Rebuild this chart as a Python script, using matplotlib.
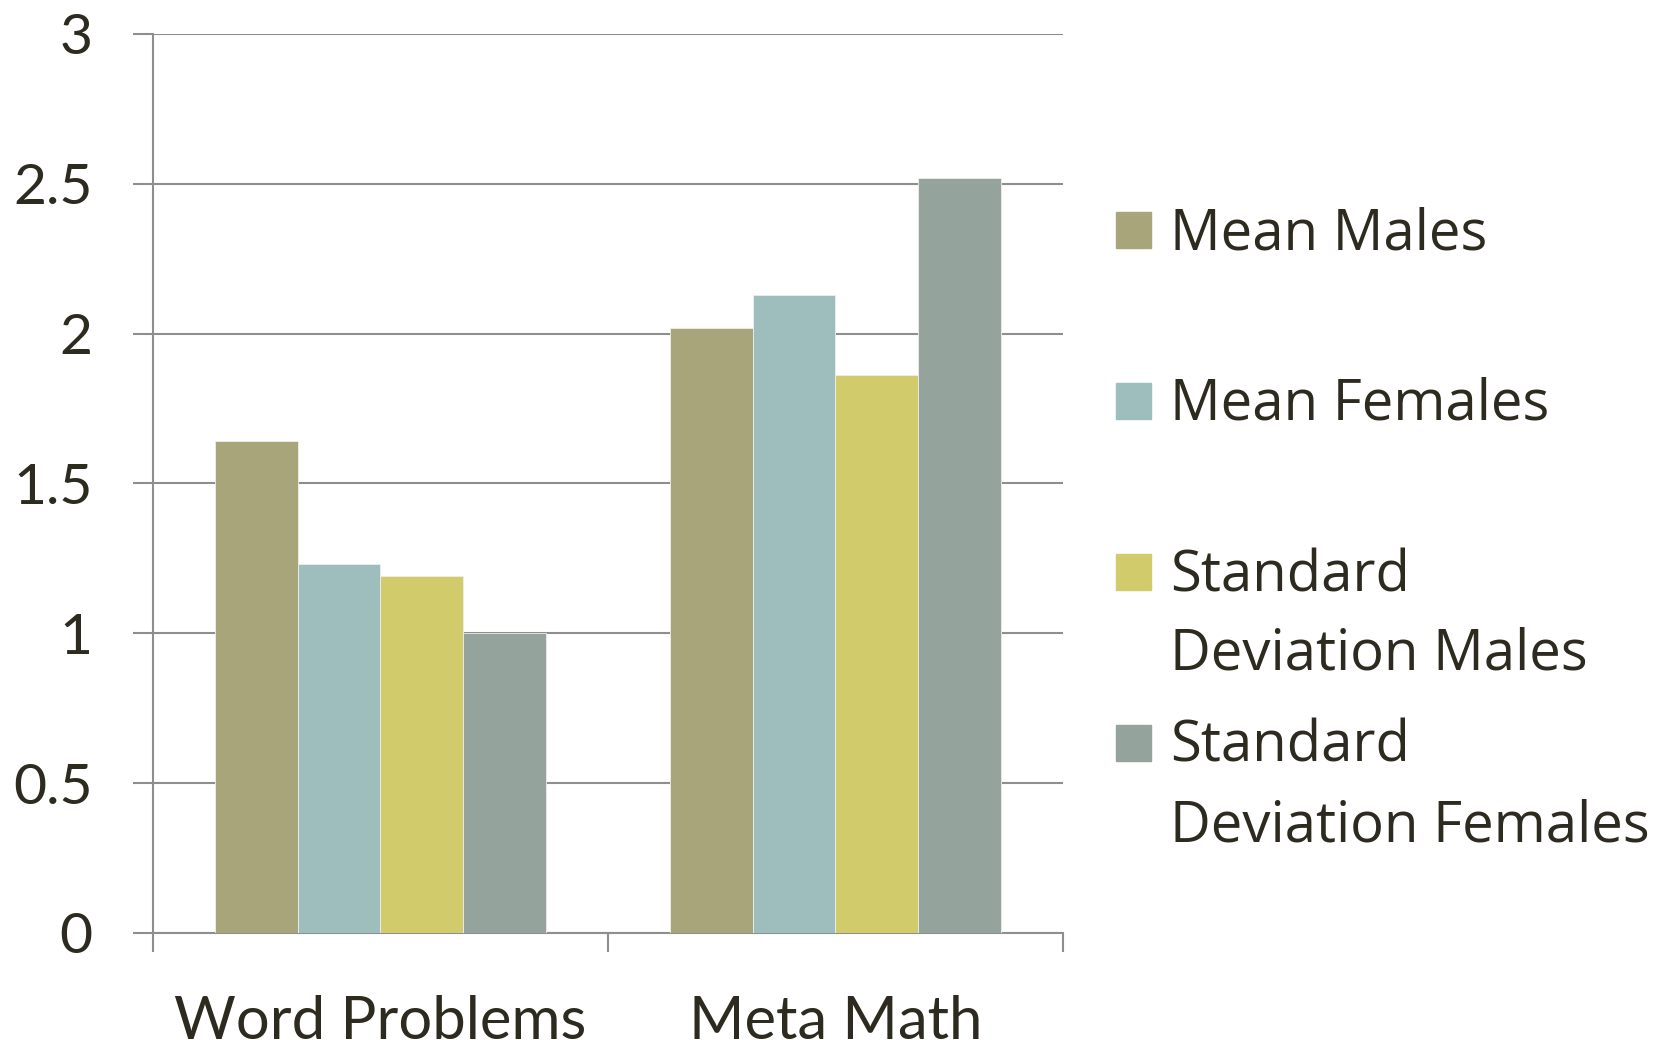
import matplotlib.pyplot as plt
import numpy as np
from matplotlib.patches import Rectangle

categories = ["Word Problems", "Meta Math"]
series = ["Mean Males", "Mean Females", "Standard\nDeviation Males", "Standard\nDeviation Females"]
mean_males = [1.64, 2.02]
mean_females = [1.23, 2.13]
sd_males = [1.19, 1.86]
sd_females = [1.0, 2.52]
colors = ["#a8a57b", "#9ebdbd", "#d1cb6c", "#94a39b"]

grid_color = "#8e8e8e"
text_color = "#2d2a1f"

fig = plt.figure(figsize=(16.57, 10.4), dpi=100)
ax = fig.add_axes([0.0923, 0.1029, 0.5492, 0.8646])

x = np.arange(len(categories))
width = 0.1816
values = [mean_males, mean_females, sd_males, sd_females]
for i, (vals, col) in enumerate(zip(values, colors)):
    ax.bar(x + (i - 1.5) * width, vals, width, color=col, zorder=3,
           edgecolor="#eeeeee", linewidth=0.6)

ax.set_xlim(-0.5, 1.5)
ax.set_ylim(0, 3)
ax.set_yticks([0, 0.5, 1, 1.5, 2, 2.5, 3])
ax.set_yticklabels(["0", "0.5", "1", "1.5", "2", "2.5", "3"])
ax.yaxis.grid(True, color=grid_color, linewidth=1.5, zorder=0)
ax.set_axisbelow(True)

# category separators as minor ticks on the x axis
ax.set_xticks([-0.5, 0.5, 1.5], minor=True)
ax.set_xticks(x)
ax.set_xticklabels(categories)
ax.tick_params(axis="x", which="major", length=0, pad=45, labelsize=43,
               labelcolor=text_color)
ax.tick_params(axis="x", which="minor", length=14, width=1.5, color=grid_color,
               direction="out")
ax.tick_params(axis="y", length=14.5, width=1.5, color=grid_color, pad=29,
               labelsize=41, labelcolor=text_color)
for lab in ax.get_xticklabels() + ax.get_yticklabels():
    lab.set_family(["Lato", "DejaVu Sans"])

for side in ["top", "right"]:
    ax.spines[side].set_visible(False)
for side in ["left", "bottom"]:
    ax.spines[side].set_color(grid_color)
    ax.spines[side].set_linewidth(1.5)

# legend drawn at the right side of the figure, one text line at a time
W, H = 1657, 1040
for k, (name, col) in enumerate(zip(series, colors)):
    cy = 230 + k * 171
    fig.patches.append(Rectangle((1116 / W, 1 - (cy + 18) / H), 35 / W, 36 / H,
                                 transform=fig.transFigure, color=col))
    for j, line in enumerate(name.split("\n")):
        fig.text(1170 / W, 1 - (cy + 19 + j * 79) / H, line, fontsize=40.5,
                 color=text_color, family=["Open Sans", "DejaVu Sans"],
                 va="baseline", ha="left")

fig.savefig("out.png", dpi=100, facecolor="white")
